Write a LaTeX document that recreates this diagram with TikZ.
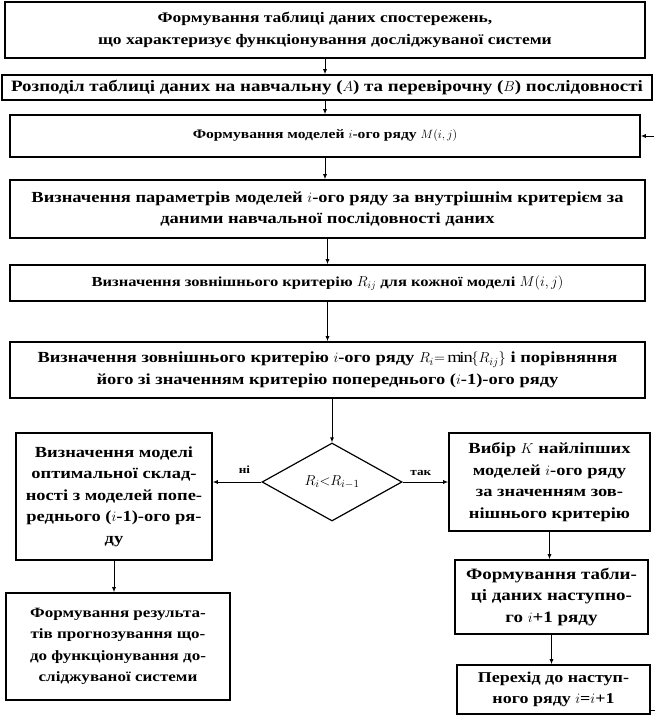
\documentclass[tikz,border=0pt]{standalone}
\usepackage{fontspec}
\setmainfont[FakeStretch=1.2]{Liberation Serif}
\usetikzlibrary{shapes.geometric,arrows.meta}

\tikzset{
  blk/.style={draw,line width=1.6pt,align=center,inner sep=0pt,font=\bfseries\fontsize{#1}{21.5}\selectfont},
  blk/.default=15.8,
  cnd/.style={draw,diamond,line width=1.2pt,inner sep=0pt,font=\fontsize{15}{21}\selectfont},
  arr/.style={-{Latex[length=5pt,width=4pt]},line width=0.9pt},
  lbl/.style={font=\bfseries\fontsize{11}{14}\selectfont}
}

\begin{document}
\begin{tikzpicture}[x=1pt,y=-1pt]
                \useasboundingbox (0,0) rectangle (655,719);
                \node[blk=14.6,minimum width=640pt,minimum height=56pt] (tbl) at (325,30) {Формування таблиці даних спостережень,\\що характеризує функціонування досліджуваної системи};
                \node[blk=15.8,minimum width=650pt,minimum height=25pt] (spl) at (327,87.5) {Розподіл таблиці даних на навчальну ($A$) та перевірочну ($B$) послідовності};
                \node[blk=13,minimum width=630pt,minimum height=42pt] (mij) at (325,136) {Формування моделей $i$-ого ряду $M(i,j)$};
                \node[blk=15.4,minimum width=635pt,minimum height=58pt] (par) at (327.5,209) {Визначення параметрів моделей $i$-ого ряду за внутрішнім критерієм за\\даними навчальної послідовності даних};
                \node[blk=13.8,minimum width=635pt,minimum height=36pt] (ext) at (327.5,283) {Визначення зовнішнього критерію $R_{ij}$ для кожної моделі $M(i,j)$};
                \node[blk=15.4,minimum width=635pt,minimum height=56pt] (cmp) at (327.5,370) {Визначення зовнішнього критерію $i$-ого ряду $R_i{=}\min\{R_{ij}\}$ і порівняння\\його зі значенням критерію попереднього ($i$-1)-ого ряду};
                \node[cnd,minimum width=140pt,minimum height=78pt] (dec) at (332,482) {$R_i{<}R_{i-1}$};
                \node[blk=15.4,minimum width=196pt,minimum height=127pt] (opt) at (114,496.5) {Визначення моделі\\оптимальної склад-\\ності з моделей попе-\\реднього ($i$-1)-ого ря-\\ду};
                \node[blk=14.2,minimum width=224pt,minimum height=107pt] (res) at (118,646.5) {Формування результа-\\тів прогнозування що-\\до функціонування до-\\сліджуваної системи};
                \node[blk=15.4,minimum width=201pt,minimum height=98pt] (sel) at (549.5,482) {Вибір $K$ найліпших\\моделей $i$-ого ряду\\за значенням зов-\\нішнього критерію};
                \node[blk=15.8,minimum width=193pt,minimum height=74pt] (tbn) at (551.5,597) {Формування табли-\\ці даних наступно-\\го $i$+1 ряду};
                \node[blk=15,minimum width=193pt,minimum height=49pt] (nxt) at (553.5,689.5) {Перехід до наступ-\\ного ряду $i$=$i$+1};
                \coordinate (back) at (654,136);
                \coordinate (out) at (655,710);
                \draw[arr] (tbl.south) -- (tbl.south |- spl.north);
                \draw[arr] (mij.north |- spl.south) -- (mij.north);
                \draw[arr] (mij.south) -- (mij.south |- par.north);
                \draw[arr] (par.south) -- (par.south |- ext.north);
                \draw[arr] (ext.south) -- (ext.south |- cmp.north);
                \draw[arr] (dec.north |- cmp.south) -- (dec.north);
                \draw[arr] (dec.west) -- node[lbl,above=5pt,pos=0.35] {ні} (dec.west -| opt.east);
                \draw[arr] (dec.east) -- node[lbl,above=3pt,pos=0.4] {так} (dec.east -| sel.west);
                \draw[arr] (opt.south) -- (opt.south |- res.north);
                \draw[arr] (sel.south) -- (sel.south |- tbn.north);
                \draw[arr] (tbn.south) -- (tbn.south |- nxt.north);
                \draw[arr] (back) -- (back -| mij.east);
                \draw[line width=0.9pt] (out -| nxt.east) -- (out);
            \end{tikzpicture}
\end{document}
